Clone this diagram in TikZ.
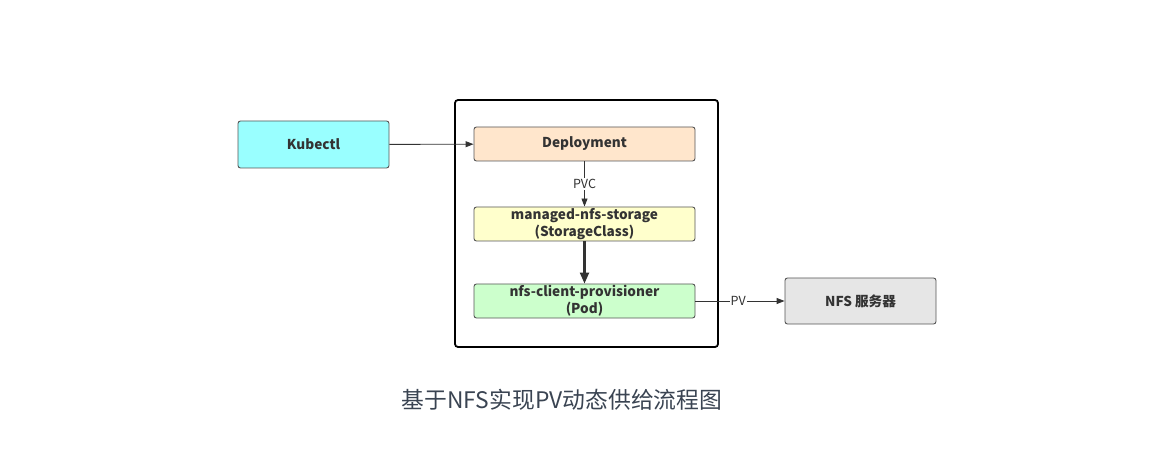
\documentclass[tikz,border=0pt]{standalone}
\usepackage{fontspec}
\setmainfont{Noto Sans CJK SC}
\usetikzlibrary{arrows.meta}
\definecolor{kcyan}{HTML}{99FFFF}
\definecolor{kpeach}{HTML}{FFE6CC}
\definecolor{kyellow}{HTML}{FFFFCC}
\definecolor{kgreen}{HTML}{CCFFCC}
\definecolor{kgray}{HTML}{E6E6E6}
\definecolor{kline}{HTML}{333333}
\definecolor{kborder}{HTML}{555555}
\definecolor{kcap}{HTML}{3A4452}
\tikzset{
  box/.style={draw=kborder, line width=0.9pt, rounded corners=2.5pt, inner sep=0pt,
    font=\fontsize{13.6}{17}\selectfont\bfseries, text=kline, align=center},
  conn/.style={draw=kline, line width=0.9pt, -{Triangle[length=8pt,width=6pt]}},
  elabel/.style={fill=white, font=\fontsize{12.5}{14}\selectfont, text=kline, inner sep=1pt}
}
\begin{document}
\begin{tikzpicture}[x=1pt,y=-1pt]
\useasboundingbox (0,0) rectangle (1159,470);
\node[draw=black, line width=1.8pt, rounded corners=3pt, minimum width=263pt, minimum height=247pt, inner sep=0pt] (frame) at (586.5,223.5) {};
\node[box, fill=kcyan, minimum width=151pt, minimum height=47pt] (kub) at (313.5,144.5) {Kubectl};
\node[box, fill=kpeach, minimum width=221pt, minimum height=34pt] (dep) at (584.5,144) {Deployment};
\node[box, fill=kyellow, minimum width=221pt, minimum height=34pt] (sc) at (584.5,224) {managed-nfs-storage\\(StorageClass)};
\node[box, fill=kgreen, minimum width=221pt, minimum height=34pt] (pod) at (584.5,301) {nfs-client-provisioner\\(Pod)};
\node[box, fill=kgray, minimum width=151pt, minimum height=46pt] (nfs) at (860.5,301) {NFS 服务器};
\draw[conn] (kub) -- (dep);
\draw[conn] (dep) -- node[elabel] {PVC} (sc);
\draw[conn, line width=2.2pt, -{Triangle[length=11pt,width=9pt]}] (sc) -- (pod);
\draw[conn] (pod) -- node[elabel, pos=0.48] {PV} (nfs);
\node[font=\fontsize{22.8}{26}\selectfont, text=kcap] (cap) at (562,400) {基于NFS实现PV动态供给流程图};
\end{tikzpicture}
\end{document}
